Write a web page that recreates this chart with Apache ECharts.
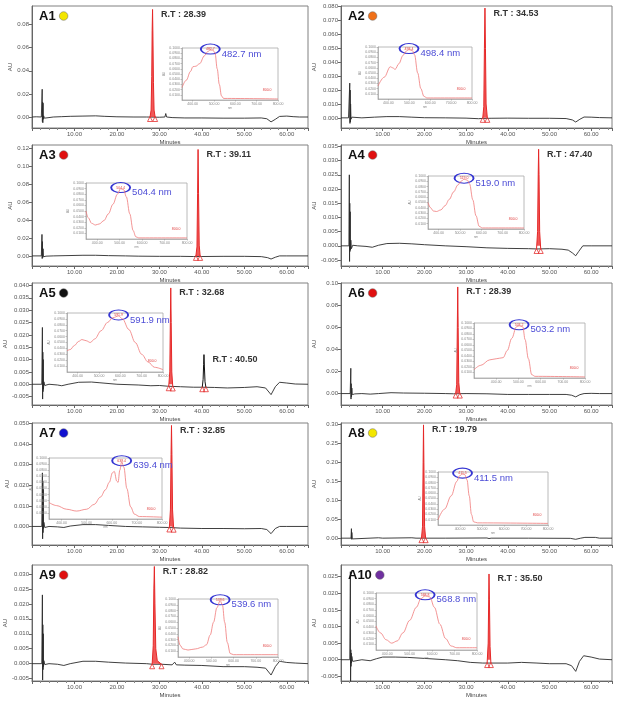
<!DOCTYPE html>
<html><head><meta charset="utf-8">
<script src="https://cdn.jsdelivr.net/npm/echarts@6/dist/echarts.min.js"></script>
<style>html,body{margin:0;padding:0;background:#fff}#c{width:621px;height:709px}</style>
</head><body><div id="c"></div>
<script>
// ---------- data ----------
const panelIds = ['A1','A2','A3','A4','A5','A6','A7','A8','A9','A10'];
const dotColors = ['#f3e600','#f07018','#e01010','#e01010','#111111','#e01010','#1010d0','#f3e600','#e01010','#7030a0'];
const rtTexts = ['28.39','34.53','39.11','47.40','32.68','28.39','32.85','19.79','28.82','35.50'];
const lambdaTexts = ['482.7','498.4','504.4','519.0','591.9','503.2','639.4','411.5','539.6','568.8'];

const a1Ticks=[0,0.02,0.04,0.06,0.08];
const a2Ticks=[0,0.01,0.02,0.03,0.04,0.05,0.06,0.07,0.08];
const a3Ticks=[0,0.02,0.04,0.06,0.08,0.10,0.12];
const a4Ticks=[-0.005,0,0.005,0.010,0.015,0.020,0.025,0.030,0.035];
const a5Ticks=[-0.005,0,0.005,0.010,0.015,0.020,0.025,0.030,0.035,0.040];
const a6Ticks=[0,0.02,0.04,0.06,0.08,0.10];
const a7Ticks=[0,0.01,0.02,0.03,0.04,0.05];
const a8Ticks=[0,0.05,0.10,0.15,0.20,0.25,0.30];
const a9Ticks=[-0.005,0,0.005,0.010,0.015,0.020,0.025,0.030];
const a10Ticks=[-0.005,0,0.005,0.010,0.015,0.020,0.025];
const minuteTicks=[10,20,30,40,50,60];
const nmTicks=[400,500,600,700,800];

const a1Base=[[0,0],[1,0.0002],[2.2,0],[2.35,0.0005],[2.4,0.024],[2.45,-0.004],[2.5,0.013],[2.55,-0.005],[2.6,0.012],[2.65,-0.002],[2.75,0.001],[2.9,-0.001],[3.2,0.0003],[4,-0.0005],[5,0],[7,0.0003],[9,0.0006],[12,0.0008],[15,0.001],[17,0.0006],[20,0.0002],[24,0],[27,0],[30,-0.0002],[31.3,0],[31.5,0.003],[31.7,0],[33,-0.0005],[36,-0.0008],[40,-0.0008],[45,-0.001],[50,-0.001],[54,-0.0008],[55.3,-0.0015],[56.3,-0.0042],[57.3,-0.002],[58.3,0.0005],[60,0.0008],[61.5,0.0003],[63,0],[65,0]];
const a1Peak=[[27.8,0],[28.05,0.006],[28.2,0.035],[28.3,0.075],[28.39,0.093],[28.48,0.07],[28.6,0.03],[28.75,0.006],[29.0,0]];
const a2Base=[[0,0],[1.8,0],[2.0,0.0005],[2.1,0.025],[2.15,-0.004],[2.2,0.02],[2.25,-0.003],[2.3,0.01],[2.4,-0.001],[2.6,0.0005],[3,-0.0003],[5,0],[8,0.0005],[11,0.0009],[14,0.0009],[17,0.0005],[20,0.0001],[25,0],[30,-0.0002],[33,-0.0006],[34,-0.0004],[36,-0.0003],[40,-0.0002],[45,-0.0003],[50,-0.0003],[54,-0.0005],[55.5,-0.0015],[56.3,-0.003],[57.3,-0.001],[58.3,0.0006],[60,0.0005],[62,0.0002],[65,0]];
const a2Peak=[[34.0,0],[34.25,0.008],[34.4,0.05],[34.53,0.079],[34.65,0.05],[34.8,0.01],[35.1,0]];
const a3Base=[[0,0],[2.2,0],[2.35,0.024],[2.4,-0.003],[2.45,0.016],[2.5,-0.002],[2.6,0.008],[2.7,-0.001],[2.9,0.0005],[3.3,-0.0003],[5,0],[8,0.0003],[12,0.0007],[15,0.0007],[18,0.0003],[22,0],[25,-0.0003],[30,-0.0005],[35,-0.0005],[38,-0.0007],[40,-0.0007],[45,-0.0005],[50,-0.0005],[54,-0.0008],[55.5,-0.002],[56.3,-0.0035],[57.3,-0.0015],[58.3,0],[60,0],[65,0]];
const a3Peak=[[38.6,0],[38.85,0.01],[39.0,0.07],[39.11,0.119],[39.22,0.07],[39.38,0.012],[39.6,0]];
const a4Base=[[0,0],[1.9,0],[2.0,0.025],[2.05,-0.0055],[2.1,0.015],[2.15,-0.002],[2.2,0.012],[2.25,-0.0015],[2.35,0.002],[2.5,-0.001],[2.8,0.0002],[4,0],[6,-0.0002],[7.5,-0.0005],[9,0.0002],[11,0.0008],[14,0.0009],[17,0.0007],[20,0.0004],[25,0],[30,-0.0003],[35,-0.0007],[40,-0.0009],[45,-0.001],[47,-0.0011],[50,-0.001],[53,-0.0012],[54.5,-0.0015],[55.5,-0.0025],[56.3,-0.0035],[57,-0.002],[58,0],[60,0],[65,0]];
const a4Peak=[[46.9,-0.0011],[47.15,0.005],[47.3,0.025],[47.4,0.034],[47.5,0.025],[47.65,0.005],[47.9,-0.0011]];
const a5Base=[[0,0],[2.3,0],[2.45,0.023],[2.5,-0.006],[2.55,0.013],[2.6,-0.003],[2.65,0.01],[2.7,-0.002],[2.8,0.001],[3.0,-0.0005],[4,0],[6,-0.0003],[7,-0.0006],[8.5,0],[11,0.0008],[14,0.0009],[16,0.0006],[20,0],[25,-0.0003],[28,-0.0006],[30,-0.0005],[32,-0.0008],[35,-0.001],[38,-0.0012],[40,-0.0012],[43,-0.0013],[46,-0.0015],[50,-0.0013],[53,-0.001],[55,-0.0015],[56.3,-0.0042],[57.3,-0.001],[58.3,0.0008],[60,0.0005],[62,0.0001],[65,0]];
const a5Peak=[[32.2,-0.0008],[32.45,0.005],[32.58,0.025],[32.68,0.039],[32.78,0.025],[32.92,0.005],[33.15,-0.0009]];
const a5Peak2=[[40.1,-0.0012],[40.3,0.002],[40.42,0.008],[40.5,0.012],[40.6,0.007],[40.75,0.001],[40.95,-0.0012]];
const a6Base=[[0,0],[2.2,0],[2.35,0.023],[2.4,-0.005],[2.45,0.009],[2.5,-0.003],[2.6,0.005],[2.7,-0.001],[2.9,0.0005],[3.3,-0.0003],[5,0],[7,-0.0005],[9,0],[12,0.0008],[15,0.0005],[20,0.0003],[25,0],[27,-0.0002],[30,0],[35,-0.0002],[40,-0.0008],[45,-0.0008],[50,-0.0008],[54,-0.0008],[55.3,-0.0015],[56.3,-0.003],[57.3,-0.001],[58.3,0],[60,0.0002],[62,0],[65,0]];
const a6Peak=[[27.5,0],[27.75,0.008],[27.9,0.06],[28.0,0.097],[28.1,0.06],[28.25,0.01],[28.5,0]];
const a7Base=[[0,0],[2.3,0],[2.45,0.026],[2.5,-0.006],[2.55,0.022],[2.6,-0.003],[2.65,0.018],[2.7,-0.001],[2.8,0.002],[3.0,-0.0005],[4,0],[6,-0.0002],[7.5,-0.0005],[9,0.0002],[12,0.0009],[15,0.0009],[18,0.0005],[22,0],[26,-0.0002],[30,-0.0004],[32.2,-0.0005],[35,-0.0008],[40,-0.001],[45,-0.001],[50,-0.0011],[54,-0.001],[55.3,-0.0015],[56.3,-0.0035],[57.3,-0.001],[58.3,0],[60,0],[65,0]];
const a7Peak=[[32.35,-0.0005],[32.6,0.008],[32.75,0.035],[32.85,0.049],[32.95,0.035],[33.1,0.008],[33.35,-0.0006]];
const a8Base=[[0,0],[2.4,0],[2.5,0.025],[2.55,-0.003],[2.6,0.015],[2.7,-0.002],[2.8,0.002],[3,0],[9,0.001],[10,0],[17,0.001],[18,0],[25,0],[35,0.0005],[35.5,-0.001],[36,0],[45,0],[55,-0.0005],[56.3,-0.003],[57.5,0],[58.5,0.002],[61,0.002],[62,0],[65,0]];
const a8Peak=[[19.3,0],[19.55,0.03],[19.7,0.2],[19.79,0.298],[19.88,0.2],[20.05,0.03],[20.3,0]];
const a9Base=[[0,0],[2.3,0],[2.45,0.023],[2.5,-0.0055],[2.55,0.013],[2.6,-0.002],[2.65,0.01],[2.7,-0.001],[2.8,0.001],[3.0,-0.0003],[4,0],[6,-0.0002],[7.5,-0.0006],[9,0],[12,0.0008],[15,0.0008],[18,0.0005],[22,0.0002],[27,0],[28.3,-0.0002],[30.5,-0.0002],[33,-0.0004],[33.6,0.0005],[34,-0.0004],[36,-0.0005],[40,-0.0006],[45,-0.001],[50,-0.001],[53,-0.0012],[55,-0.0015],[56.3,-0.0038],[57.3,-0.001],[58.3,0.0008],[60,0.0004],[62,0.0002],[65,0]];
const a9Peak=[[28.3,-0.0002],[28.55,0.006],[28.7,0.025],[28.82,0.0325],[28.95,0.02],[29.15,0.005],[29.5,0.001],[30.5,-0.0002]];
const a10Base=[[0,0],[2.1,0],[2.25,0.0265],[2.3,-0.0065],[2.35,0.003],[2.4,-0.002],[2.45,0.002],[2.5,-0.001],[2.6,0.001],[2.8,-0.0005],[3.2,0],[5,0],[7,-0.0003],[8.5,0.0003],[10,0.0008],[13,0.0008],[16,0.0007],[20,0.0004],[25,0],[28,-0.0003],[31,-0.0008],[34,-0.001],[36,-0.001],[40,-0.001],[43.3,-0.0008],[43.5,-0.0002],[43.7,-0.0009],[47,-0.001],[50,-0.0012],[54,-0.0012],[55.3,-0.0018],[56.3,-0.0035],[57.2,-0.0005],[58.2,0.0012],[60,0.0008],[62,0.0002],[65,0]];
const a10Peak=[[35.05,-0.001],[35.3,0.005],[35.42,0.018],[35.5,0.0258],[35.6,0.018],[35.75,0.004],[35.95,-0.001]];

// UV-Vis spectra (wavelength nm, relative absorbance)
const a1Spec=[[350,0.24],[370,0.38],[390,0.55],[401,0.64],[415,0.65],[433,0.70],[455,0.85],[470,0.93],[482.7,0.96],[495,0.96],[505,0.9],[515,0.6],[525,0.3],[535,0.08],[545,0.03],[800,0.02]];
const a2Spec=[[350,0.25],[380,0.42],[409,0.62],[420,0.6],[432,0.57],[450,0.68],[470,0.84],[485,0.92],[498.4,0.95],[515,0.93],[525,0.85],[540,0.5],[555,0.2],[570,0.05],[585,0.02],[800,0.02]];
const a3Spec=[[350,0.5],[360,0.38],[375,0.28],[392,0.25],[410,0.27],[430,0.33],[450,0.45],[470,0.62],[490,0.8],[504.4,0.9],[518,0.88],[530,0.75],[545,0.45],[560,0.15],[572,0.04],[585,0.02],[800,0.02]];
const a4Spec=[[350,0.5],[362,0.4],[375,0.34],[390,0.33],[410,0.36],[430,0.44],[450,0.56],[470,0.7],[490,0.83],[505,0.9],[519,0.94],[535,0.92],[545,0.85],[560,0.55],[575,0.25],[590,0.05],[605,0.02],[800,0.02]];
const a5Spec=[[350,0.36],[365,0.38],[385,0.45],[405,0.52],[420,0.55],[440,0.53],[459,0.5],[480,0.56],[510,0.7],[540,0.84],[565,0.92],[591.9,0.95],[610,0.9],[640,0.72],[670,0.5],[700,0.3],[730,0.17],[760,0.08],[800,0.04]];
const a6Spec=[[300,0.15],[330,0.23],[371,0.33],[400,0.35],[431,0.37],[450,0.5],[470,0.72],[491,0.93],[503.2,0.95],[520,0.93],[530,0.7],[545,0.35],[560,0.06],[575,0.03],[800,0.02]];
const a7Spec=[[350,0.27],[380,0.22],[420,0.16],[460,0.13],[500,0.16],[530,0.24],[555,0.36],[575,0.48],[590,0.6],[603,0.76],[610,0.78],[620,0.62],[625,0.6],[632,0.8],[639.4,0.94],[648,0.85],[660,0.5],[675,0.2],[690,0.08],[710,0.04],[800,0.03]];
const a8Spec=[[300,0.1],[330,0.3],[360,0.55],[385,0.82],[398,0.93],[411.5,0.96],[422,0.95],[432,0.85],[442,0.55],[452,0.2],[462,0.06],[480,0.04],[800,0.03]];
const a9Spec=[[350,0.35],[360,0.2],[372,0.14],[395,0.12],[430,0.14],[460,0.17],[478,0.21],[495,0.38],[510,0.6],[525,0.85],[539.6,0.97],[550,0.9],[560,0.6],[572,0.25],[585,0.06],[600,0.04],[800,0.04]];
const a10Spec=[[350,0.42],[370,0.3],[395,0.18],[420,0.12],[445,0.16],[470,0.3],[500,0.52],[530,0.75],[550,0.9],[568.8,0.95],[590,0.93],[610,0.75],[635,0.45],[660,0.2],[685,0.07],[710,0.04],[800,0.04]];

// ---------- assembly ----------
const bases=[a1Base,a2Base,a3Base,a4Base,a5Base,a6Base,a7Base,a8Base,a9Base,a10Base];
const peaks=[a1Peak,a2Peak,a3Peak,a4Peak,a5Peak,a6Peak,a7Peak,a8Peak,a9Peak,a10Peak];
const specs=[a1Spec,a2Spec,a3Spec,a4Spec,a5Spec,a6Spec,a7Spec,a8Spec,a9Spec,a10Spec];
const ticks=[a1Ticks,a2Ticks,a3Ticks,a4Ticks,a5Ticks,a6Ticks,a7Ticks,a8Ticks,a9Ticks,a10Ticks];
const decimals=[2,3,2,3,3,2,3,2,3,3];
const yRanges=[[-0.0095,0.096],[-0.0073,0.0805],[-0.0113,0.124],[-0.0071,0.0355],[-0.0084,0.041],[-0.0104,0.1006],[-0.009,0.0502],[-0.018,0.303],[-0.0058,0.033],[-0.0064,0.0285]];
const specMin=[350,350,350,350,350,300,350,300,350,350];

// layout (pixels)
const colLeft=[32,341], colWidth=[276,271], nameGapY=[19,24];
const rowTop=[6,145,283,423,565], rowH=[122,121,122,122,116];
const insetRects=[[182,48,96,52],[378,47,94,52],[86,183,101,56],[428,176,96,53],[67,313,96,59],[474,323,111,55],[49,458,113,61],[438,472,110,53],[178,599,100,58],[376,593,101,57]];

const FONT='"Liberation Sans", Arial, sans-serif';
const grids=[], xAxes=[], yAxes=[], series=[], graphics=[];
const ctx=document.createElement('canvas').getContext('2d');
ctx.font='bold 13px '+FONT;

function peakMarks(pk, rt){
  const top=pk.reduce((a,b)=>b[1]>a[1]?b:a);
  const tri={symbol:'triangle',symbolSize:[5,5],symbolOffset:[0,2],itemStyle:{color:'transparent',borderColor:'#e53030',borderWidth:0.8},label:{show:false}};
  return {silent:true,animation:false,data:[
    {coord:top,symbol:'circle',symbolSize:1,itemStyle:{color:'transparent'},
     label:{show:true,position:'right',distance:0,offset:[8,5],formatter:'R.T : '+rt,fontSize:9,fontWeight:'bold',color:'#333',fontFamily:FONT}},
    Object.assign({coord:pk[0]},tri),
    Object.assign({coord:pk[pk.length-1]},tri)
  ]};
}

panelIds.forEach((id,i)=>{
  const col=i%2,row=Math.floor(i/2);
  const L=colLeft[col],T=rowTop[row],W=colWidth[col],H=rowH[row];
  const gi=grids.length;
  grids.push({left:L,top:T,width:W,height:H,show:true,borderColor:'#808080',borderWidth:1,backgroundColor:'#fff',z:0});
  xAxes.push({gridIndex:gi,type:'value',min:0,max:65,interval:10,
    name:'Minutes',nameLocation:'middle',nameGap:11,nameTextStyle:{fontSize:6,color:'#444',fontFamily:FONT},
    axisLine:{show:true,onZero:false,lineStyle:{color:'#666',width:1}},
    axisTick:{show:true,length:3,lineStyle:{color:'#666'}},
    minorTick:{show:true,splitNumber:5,length:2,lineStyle:{color:'#888'}},
    axisLabel:{fontSize:6,color:'#555',margin:3,fontFamily:FONT,customValues:minuteTicks,formatter:v=>v.toFixed(2)},
    splitLine:{show:false},minorSplitLine:{show:false}});
  const dec=decimals[i];
  yAxes.push({gridIndex:gi,type:'value',min:yRanges[i][0],max:yRanges[i][1],
    name:'AU',nameLocation:'middle',nameGap:nameGapY[col],nameTextStyle:{fontSize:6,color:'#444',fontFamily:FONT},
    axisLine:{show:true,onZero:false,lineStyle:{color:'#666',width:1}},
    axisTick:{show:true,length:3,customValues:ticks[i],lineStyle:{color:'#666'}},
    axisLabel:{fontSize:6,color:'#555',margin:3,fontFamily:FONT,customValues:ticks[i],formatter:v=>v.toFixed(dec)},
    splitLine:{show:false}});
  series.push({type:'line',xAxisIndex:gi,yAxisIndex:gi,data:bases[i],symbol:'none',lineStyle:{color:'#2a2a2a',width:0.9},silent:true,animation:false,z:2});
  series.push({type:'line',xAxisIndex:gi,yAxisIndex:gi,data:peaks[i],symbol:'none',lineStyle:{color:'#e62828',width:1},
    areaStyle:{color:'#ee3b3b',opacity:0.85},silent:true,animation:false,z:3,markPoint:peakMarks(peaks[i],rtTexts[i])});
  if(id==='A5'){
    series.push({type:'line',xAxisIndex:gi,yAxisIndex:gi,data:a5Peak2,symbol:'none',lineStyle:{color:'#111',width:1},
      silent:true,animation:false,z:3,markPoint:peakMarks(a5Peak2,'40.50')});
  }
  // inset spectrum
  const r=insetRects[i];
  const si=grids.length;
  grids.push({left:r[0],top:r[1],width:r[2],height:r[3],show:true,borderColor:'#a8a8a8',borderWidth:0.8,backgroundColor:'#fff',z:5});
  xAxes.push({gridIndex:si,type:'value',min:specMin[i],max:800,z:6,
    axisLine:{show:true,onZero:false,lineStyle:{color:'#999',width:0.6}},
    axisTick:{show:true,length:1.5,customValues:nmTicks,lineStyle:{color:'#999',width:0.6}},
    axisLabel:{fontSize:3.5,color:'#888',margin:2,customValues:nmTicks,formatter:v=>v.toFixed(2)},
    name:'nm',nameLocation:'middle',nameGap:6,nameTextStyle:{fontSize:3,color:'#888'},
    splitLine:{show:false}});
  yAxes.push({gridIndex:si,type:'value',min:0,max:1,z:6,
    axisLine:{show:true,onZero:false,lineStyle:{color:'#999',width:0.6}},
    axisTick:{show:true,length:1.5,customValues:[0.1,0.2,0.3,0.4,0.5,0.6,0.7,0.8,0.9,1.0],lineStyle:{color:'#999',width:0.6}},
    axisLabel:{fontSize:3.5,color:'#888',margin:2,customValues:[0.1,0.2,0.3,0.4,0.5,0.6,0.7,0.8,0.9,1.0],formatter:v=>(v/10).toFixed(4)},
    name:'AU',nameLocation:'middle',nameGap:12,nameTextStyle:{fontSize:3,color:'#888'},
    splitLine:{show:false}});
  const sp=specs[i];
  const stop=sp.reduce((a,b)=>b[1]>a[1]?b:a);
  const last=sp[sp.length-1];
  series.push({type:'line',xAxisIndex:si,yAxisIndex:si,data:sp,symbol:'none',smooth:0.35,smoothMonotone:'x',
    lineStyle:{color:'#f07a7a',width:0.8},silent:true,animation:false,z:7,
    markPoint:{silent:true,animation:false,data:[
      {coord:stop,symbol:'path://M0,5 A10,5 0 1,1 20,5 A10,5 0 1,1 0,5 Z',symbolSize:[19,10],symbolOffset:[0,-1],
       itemStyle:{color:'transparent',borderColor:'#3535d2',borderWidth:1.4},
       label:{show:true,position:'right',distance:1,offset:[0,5],formatter:lambdaTexts[i]+' nm',color:'#4d4dd6',fontSize:9.5,fontFamily:FONT}},
      {coord:stop,symbol:'circle',symbolSize:1,symbolOffset:[0,-1],itemStyle:{color:'transparent'},
       label:{show:true,position:'inside',formatter:lambdaTexts[i],fontSize:3.5,color:'#e04040'}},
      {coord:last,symbol:'circle',symbolSize:1,itemStyle:{color:'transparent'},
       label:{show:true,position:'insideBottomRight',offset:[-2,-2],formatter:'800.0',fontSize:3.5,color:'#e04040',align:'right',verticalAlign:'bottom'}}
    ]}});
  // panel label + dot
  const tx=L+7, ty=T+10;
  const tw=ctx.measureText(id).width;
  graphics.push({type:'text',x:tx,y:ty,z:20,style:{text:id,font:'bold 13px '+FONT,fill:'#111',verticalAlign:'middle'}});
  graphics.push({type:'circle',z:20,shape:{cx:tx+tw+8,cy:ty,r:4.3},style:{fill:dotColors[i],stroke:'#666',lineWidth:0.5}});
});

const chart=echarts.init(document.getElementById('c'),null,{renderer:'canvas'});
chart.setOption({animation:false,backgroundColor:'#fff',grid:grids,xAxis:xAxes,yAxis:yAxes,series:series,graphic:graphics});
</script></body></html>
